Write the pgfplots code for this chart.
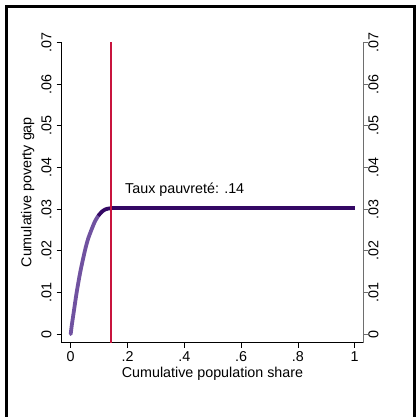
\documentclass[border=0pt]{standalone}
\usepackage{fontspec}
\setmainfont{Liberation Sans}
\usepackage{pgfplots}
\pgfplotsset{compat=1.18}
\definecolor{curvelight}{RGB}{112,82,160}
\definecolor{curvedark}{RGB}{52,8,100}
\definecolor{myred}{RGB}{200,20,62}
\definecolor{raxis}{RGB}{110,110,110}
\newcommand{\fs}{\fontsize{14.3}{17}\selectfont}
\pgfplotsset{mystyle/.style={
  scale only axis, width=301.6pt, height=301pt,
  at={(61.7pt,74.3pt)}, anchor=south west,
  xmin=-0.0317, xmax=1.0303, ymin=-0.00207, ymax=0.0702,
  scaled y ticks=false, scaled x ticks=false,
  tick align=outside, major tick length=5pt,
  every tick label/.append style={font=\fs},
  ytick={0,0.01,0.02,0.03,0.04,0.05,0.06,0.07},
  yticklabels={0,.01,.02,.03,.04,.05,.06,.07},
}}
\begin{document}
\begin{tikzpicture}[x=1pt,y=1pt]
\useasboundingbox (0,0) rectangle (416,417);
\draw[line width=3pt, line cap=butt] (6.5,0) -- (6.5,410.5) -- (414.5,410.5) -- (414.5,0);
\begin{axis}[mystyle,
  axis lines*=left,
  axis line style={black, line width=0.8pt},
  tick style={black, line width=0.8pt},
  xtick={0,0.2,0.4,0.6,0.8,1},
  xticklabels={0,.2,.4,.6,.8,1},
  yticklabel style={rotate=90, anchor=south, inner sep=0pt},
  xticklabel style={anchor=north, inner sep=0pt},
  yticklabel shift=5pt, xticklabel shift=4pt,
  xlabel={Cumulative population share},
  ylabel={Cumulative poverty gap},
  label style={font=\fs},
  xlabel style={at={(axis description cs:0.5,-0.1017)}, anchor=center},
  ylabel style={at={(axis description cs:-0.113,0.5)}, anchor=center},
  clip=false]
\addplot[curvelight, line width=3.8pt, line cap=round, smooth] coordinates {
(0,0) (0.004,0.0022) (0.0105,0.0052) (0.021,0.010) (0.034,0.015)
(0.050,0.020) (0.061,0.0228) (0.074,0.0252) (0.085,0.0270) (0.097,0.0284)};
\addplot[curvedark, line width=3.8pt, smooth] coordinates {
(0.097,0.0284) (0.11,0.0294) (0.121,0.0299) (0.13,0.0301) (0.14,0.0302)};
\addplot[curvedark, line width=3.8pt] coordinates {(0.14,0.0302) (1,0.0302)};
\addplot[color=myred, solid, line width=1.1pt] coordinates {(0.142,-0.00207) (0.142,0.0702)};
\node[anchor=base west, inner sep=0pt, font=\fs] at (axis cs:0.1912,0.03384) {Taux pauvreté: .14};
\end{axis}
\begin{axis}[mystyle,
  axis x line=none,
  axis y line*=right,
  axis line style={raxis, line width=0.8pt},
  ytick style={raxis, line width=0.8pt},
  yticklabel style={rotate=90, anchor=north, inner sep=0pt}]
\end{axis}
\end{tikzpicture}
\end{document}
